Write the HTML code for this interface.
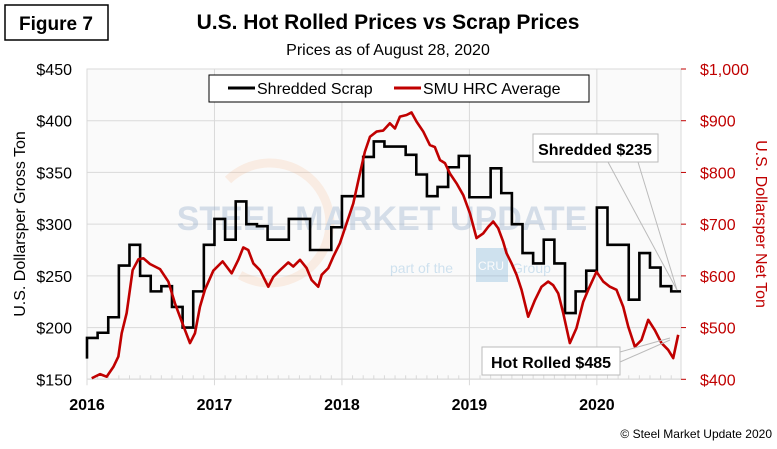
<!DOCTYPE html>
<html><head><meta charset="utf-8"><style>
body{margin:0;background:#fff;width:777px;height:444px;overflow:hidden;font-family:"Liberation Sans",sans-serif}
</style></head><body>
<svg id="chart" width="777" height="444" viewBox="0 0 777 444" xmlns="http://www.w3.org/2000/svg">
<rect x="5" y="5" width="103" height="35" fill="#fff" stroke="#000" stroke-width="1.5"/>
<text x="56" y="30" text-anchor="middle" font-size="19" font-weight="bold">Figure 7</text>
<text x="388" y="29" text-anchor="middle" font-size="21" font-weight="bold">U.S. Hot Rolled Prices vs Scrap Prices</text>
<text x="388" y="55" text-anchor="middle" font-size="16">Prices as of August 28, 2020</text>
<rect x="87" y="69" width="594" height="310" fill="#fafafa" stroke="#d9d9d9"/>
<g id="grid"></g>
<g opacity="0.35">
<path d="M228 180 A 60 60 0 1 1 240 275" fill="none" stroke="#f5b07a" stroke-width="9" opacity="0.5"/>
<text x="382" y="230" text-anchor="middle" font-size="34" font-weight="bold" fill="#8fa9c9">STEEL MARKET UPDATE</text>
<text x="390" y="273" font-size="14" fill="#7fb3da">part of the</text>
<rect x="476" y="248" width="32" height="34" fill="#7fb3da"/>
<text x="478" y="270" font-size="12" fill="#fff">CRU</text>
<text x="512" y="273" font-size="14" fill="#7fb3da">Group</text>
</g>
<g id="series"></g>
<g id="axes"></g>
<text transform="translate(25,224) rotate(-90)" text-anchor="middle" font-size="16">U.S. Dollarsper Gross Ton</text>
<text transform="translate(756,224) rotate(90)" text-anchor="middle" font-size="16" fill="#c00000">U.S. Dollarsper Net Ton</text>
<g>
<rect x="209" y="75" width="380" height="27" fill="#fff" stroke="#000"/>
<line x1="228" y1="88" x2="255" y2="88" stroke="#000" stroke-width="3"/>
<text x="257" y="94" font-size="16">Shredded Scrap</text>
<line x1="394" y1="88" x2="421" y2="88" stroke="#c00000" stroke-width="3"/>
<text x="423" y="94" font-size="16">SMU HRC Average</text>
</g>
<g>
<line x1="608" y1="162" x2="677" y2="290" stroke="#bbb"/>
<line x1="638" y1="162" x2="677" y2="290" stroke="#bbb"/>
<rect x="533" y="134" width="125" height="28" fill="#fff" stroke="#bbb"/>
<text x="595" y="155" text-anchor="middle" font-size="16" font-weight="bold">Shredded $235</text>
</g>
<g>
<line x1="620" y1="352" x2="670" y2="338" stroke="#bbb"/>
<line x1="620" y1="362" x2="670" y2="340" stroke="#bbb"/>
<rect x="482" y="347" width="138" height="28" fill="#fff" stroke="#bbb"/>
<text x="551" y="368" text-anchor="middle" font-size="16" font-weight="bold">Hot Rolled $485</text>
</g>
<text x="772" y="438" text-anchor="end" font-size="12">© Steel Market Update 2020</text>
</svg>
<script>
// Shredded scrap monthly values, Jan 2016 .. Aug 2020 ($/gross ton)
const scrapStartYear = 2016;
const scrapMonthly = [190,195,210,260,280,250,235,240,220,200,235,280,
305,285,322,300,298,285,285,305,305,275,275,297,
327,327,365,380,375,375,367,348,327,336,355,366,
326,326,354,330,300,272,262,285,262,214,235,255,
316,280,280,227,272,258,240,235];
const scrapEnd = 2020.66;
// SMU HRC average ($/net ton): decimal-year offsets and values
const hrcT = [0.037,0.102,0.154,0.207,0.246,0.272,0.311,0.358,0.403,0.442,0.494,0.573,0.638,0.690,0.729,0.769,0.808,0.847,0.886,0.925,0.991,1.064,1.135,1.187,1.226,1.265,1.305,1.357,1.422,1.461,1.514,1.579,1.618,1.671,1.723,1.762,1.814,1.841,1.893,1.932,1.984,2.037,2.089,2.141,2.180,2.220,2.272,2.324,2.376,2.416,2.455,2.507,2.546,2.586,2.638,2.690,2.729,2.769,2.808,2.847,2.899,2.952,3.004,3.056,3.108,3.148,3.187,3.226,3.265,3.291,3.331,3.370,3.409,3.461,3.514,3.566,3.618,3.657,3.697,3.736,3.788,3.840,3.893,3.932,3.997,4.050,4.102,4.154,4.207,4.246,4.298,4.350,4.403,4.455,4.507,4.559,4.599,4.638];
const hrcV = [402,410,405,424,444,489,528,611,632,634,623,613,589,547,521,495,470,489,540,573,610,628,605,631,655,650,624,611,579,598,611,626,618,631,615,592,579,602,615,637,663,702,740,798,840,869,879,881,895,885,908,911,916,898,879,853,849,824,818,798,779,756,721,673,682,695,705,692,666,644,624,602,573,521,553,579,589,582,566,528,470,499,550,573,608,589,579,573,540,502,463,476,515,495,470,457,441,486];
const leftTicks = [150,200,250,300,350,400,450];
const rightTicks = [400,500,600,700,800,900,1000];
const rightLabels = ["$400","$500","$600","$700","$800","$900","$1,000"];
const yearTicks = [2016,2017,2018,2019,2020];

const X0=87, X1=681, Y0=379.3, Y1=69;
const T0=2016, T1=2020.66;
function xs(t){return X0+(t-T0)/(T1-T0)*(X1-X0);}
function yl(v){return Y0-(v-150)/300*(Y0-Y1);}
function yr(v){return Y0-(v-400)/600*(Y0-Y1);}
const NS="http://www.w3.org/2000/svg";
function mk(tag,attrs,parent,txt){const e=document.createElementNS(NS,tag);for(const k in attrs)e.setAttribute(k,attrs[k]);if(txt!==undefined)e.textContent=txt;parent.appendChild(e);return e;}
const grid=document.getElementById('grid'), axes=document.getElementById('axes'), series=document.getElementById('series');
leftTicks.forEach((v,i)=>{
  const g=mk('line',{x1:X0,x2:X1,y1:yl(v),y2:yl(v),stroke:'#d9d9d9'},grid);
  
  
  const t=mk('text',{x:72,y:yl(v)+6,'text-anchor':'end','font-size':16},axes,'$'+v);
  
  
});
rightTicks.forEach((v,i)=>{
  const t=mk('text',{x:700,y:yr(v)+6,'font-size':16,fill:'#c00000'},axes,rightLabels[i]);
  
  
  mk('line',{x1:X1,x2:X1+5,y1:yr(v),y2:yr(v),stroke:'#c00000'},axes);
});
yearTicks.forEach(y=>{
  const g=mk('line',{x1:xs(y),x2:xs(y),y1:Y1,y2:Y0+6,stroke:'#d9d9d9'},grid);
  
  
  const t=mk('text',{x:xs(y),y:410,'text-anchor':'middle','font-size':16,'font-weight':'bold'},axes,String(y));
  
  
});
for(let m=1;m<56;m++){const x=xs(T0+m/12);if(m%12)mk('line',{x1:x,x2:x,y1:Y0-4,y2:Y0,stroke:'#d9d9d9'},grid);}
// scrap step line
let d='M'+xs(T0)+' '+yl(170);
scrapMonthly.forEach((v,i)=>{const xa=xs(scrapStartYear+i/12), xb=xs(Math.min(scrapStartYear+(i+1)/12,scrapEnd));d+=' L'+xa+' '+yl(v)+' L'+xb+' '+yl(v);});
const sp=mk('path',{d:d,fill:'none',stroke:'#000','stroke-width':2.6,'stroke-linejoin':'miter'},series);


const hp=mk('path',{d:hrcT.map((t,i)=>(i?'L':'M')+xs(T0+t)+' '+yr(hrcV[i])).join(' '),fill:'none',stroke:'#c00000','stroke-width':2.6,'stroke-linejoin':'round'},series);


</script>
</body></html>
